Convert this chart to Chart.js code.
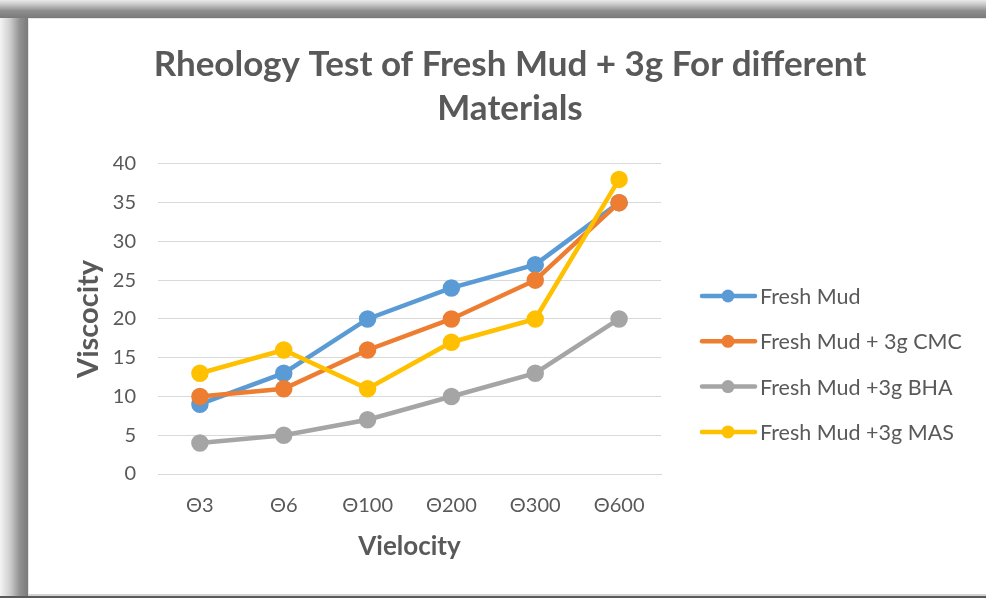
<!DOCTYPE html>
<html><head><meta charset="utf-8">
<script src="https://cdn.jsdelivr.net/npm/chart.js@4"></script>
<style>html,body{margin:0;padding:0;background:#fff;overflow:hidden;} canvas{display:block;}</style>
</head><body>
<canvas id="c" width="986" height="598"></canvas>
<script>
const categories = ['Θ3','Θ6','Θ100','Θ200','Θ300','Θ600'];
const freshMud    = [9, 13, 20, 24, 27, 35];
const freshMudCMC = [10, 11, 16, 20, 25, 35];
const freshMudBHA = [4, 5, 7, 10, 13, 20];
const freshMudMAS = [13, 16, 11, 17, 20, 38];
const seriesNames = ['Fresh Mud', 'Fresh Mud + 3g CMC', 'Fresh Mud +3g BHA', 'Fresh Mud +3g MAS'];
const seriesValues = [freshMud, freshMudCMC, freshMudBHA, freshMudMAS];
const seriesColors = ['#5B9BD5', '#ED7D31', '#A5A5A5', '#FFC000'];
const yMin = 0, yMax = 40, yStep = 5;
const titleLines = ['Rheology Test of Fresh Mud + 3g For different', 'Materials'];
const xTitle = 'Vielocity';
const yTitle = 'Viscocity';

const FONT = 'Lato, "Open Sans", sans-serif';
const TXT = '#595959';

const framePlugin = {
  id: 'frame',
  beforeDraw(chart) {
    const ctx = chart.ctx, W = chart.width, H = chart.height;
    ctx.save();
    ctx.fillStyle = '#fff';
    ctx.fillRect(0, 0, W, H);
    let g = ctx.createLinearGradient(0, 0, 0, 18);
    g.addColorStop(0, '#eaeaea');
    g.addColorStop(0.25, '#c8c8c8');
    g.addColorStop(0.6, '#8e8e8e');
    g.addColorStop(1, '#7a7a7a');
    ctx.fillStyle = g;
    ctx.fillRect(0, 0, W, 18);
    ctx.fillStyle = '#e6e6e6';
    ctx.fillRect(28, 18, W - 28, 1);
    g = ctx.createLinearGradient(0, 0, 28, 0);
    g.addColorStop(0, '#f4f4f4');
    g.addColorStop(0.35, '#cfcfcf');
    g.addColorStop(0.7, '#929292');
    g.addColorStop(1, '#7a7a7a');
    ctx.fillStyle = g;
    ctx.fillRect(0, 18, 28, H - 18);
    ctx.fillStyle = '#e6e6e6';
    ctx.fillRect(28, 18, 1, H - 18);
    ctx.fillStyle = '#d4d4d4';
    ctx.fillRect(28, 594, W - 28, 2);
    ctx.fillStyle = '#5a5a5a';
    ctx.fillRect(0, 596, W, 2);
    ctx.restore();
  }
};

const legendPlugin = {
  id: 'sideLegend',
  afterDraw(chart) {
    const ctx = chart.ctx;
    ctx.save();
    chart.data.datasets.forEach((ds, i) => {
      const y = 296 + i * 45.3;
      ctx.strokeStyle = ds.borderColor;
      ctx.lineWidth = 4.5;
      ctx.lineCap = 'round';
      ctx.beginPath();
      ctx.moveTo(702, y);
      ctx.lineTo(755, y);
      ctx.stroke();
      ctx.fillStyle = ds.borderColor;
      ctx.beginPath();
      ctx.arc(728, y, 6.5, 0, Math.PI * 2);
      ctx.fill();
      ctx.fillStyle = TXT;
      ctx.font = '21.5px ' + FONT;
      ctx.textBaseline = 'middle';
      ctx.textAlign = 'left';
      ctx.fillText(ds.label, 760, y + 1);
    });
    ctx.restore();
  }
};

new Chart(document.getElementById('c'), {
  type: 'line',
  data: {
    labels: categories,
    datasets: seriesValues.map((vals, i) => ({
      label: seriesNames[i],
      data: vals,
      borderColor: seriesColors[i],
      backgroundColor: seriesColors[i],
      pointBackgroundColor: seriesColors[i],
      pointBorderColor: seriesColors[i],
      borderWidth: 4.5,
      pointRadius: 6.5,
      pointHoverRadius: 6.5,
      tension: 0,
      yAxisID: 'y',
      order: seriesValues.length - i
    }))
  },
  options: {
    responsive: false,
    animation: false,
    layout: { padding: { left: 34, top: 18, right: 0, bottom: 4 } },
    plugins: {
      legend: { display: false },
      tooltip: { enabled: false },
      title: {
        display: true,
        text: titleLines,
        color: TXT,
        font: { family: FONT, size: 35, weight: 'bold', lineHeight: 1.27 },
        padding: { top: 24, bottom: 33 }
      }
    },
    scales: {
      x: {
        offset: true,
        grid: { display: false, drawTicks: false },
        border: { display: true, color: '#d9d9d9', width: 1 },
        ticks: { color: TXT, font: { family: FONT, size: 20 }, padding: 20, maxRotation: 0 },
        title: { display: true, text: xTitle, color: TXT, font: { family: FONT, size: 26, weight: 'bold' }, padding: { top: 8, bottom: 32 } },
        afterFit(s) { s.height = 120; }
      },
      y: {
        min: yMin, max: yMax,
        ticks: { stepSize: yStep, color: TXT, font: { family: FONT, size: 20 }, padding: 22 },
        grid: { color: '#d9d9d9', lineWidth: 1, drawTicks: false },
        border: { display: false },
        title: { display: true, text: yTitle, color: TXT, font: { family: FONT, size: 29, weight: 'bold' }, padding: { top: 37, bottom: 0 } },
        afterFit(s) { s.width = 124; }
      },
      legendSpace: {
        type: 'linear',
        position: 'right',
        display: true,
        grid: { display: false, drawTicks: false },
        border: { display: false },
        ticks: { display: false },
        afterFit(s) { s.width = 325; }
      }
    }
  },
  plugins: [framePlugin, legendPlugin]
});
</script>
</body></html>
